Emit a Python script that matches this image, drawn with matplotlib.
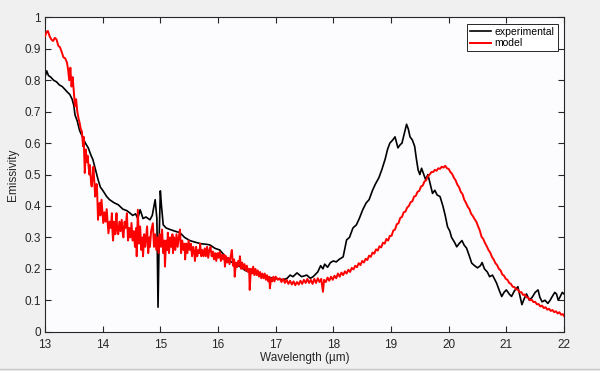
import matplotlib
matplotlib.use("Agg")
import matplotlib.pyplot as plt
from matplotlib.lines import Line2D

plt.rcParams['font.family'] = ['Liberation Sans', 'DejaVu Sans']

exp_wl = [13.00, 13.03, 13.06, 13.10, 13.15, 13.20, 13.25, 13.30, 13.35, 13.40, 13.43, 13.47, 13.50, 13.52,
          13.56, 13.60, 13.65, 13.70, 13.75, 13.80, 13.83, 13.87, 13.92, 13.96, 14.00, 14.07, 14.12, 14.20,
          14.27, 14.35, 14.42, 14.47, 14.52, 14.57, 14.61, 14.65, 14.70, 14.75, 14.82, 14.86, 14.91, 14.94,
          14.96, 14.98, 15.00, 15.02, 15.05, 15.10, 15.17, 15.25, 15.34, 15.42, 15.51, 15.60, 15.70, 15.80,
          15.86, 15.95, 16.03, 16.10, 16.20, 16.30, 16.40, 16.47, 16.55, 16.65, 16.75, 16.85, 16.95, 17.05,
          17.13, 17.20, 17.25, 17.30, 17.37, 17.45, 17.54, 17.60, 17.65, 17.73, 17.78, 17.82, 17.85, 17.90,
          17.95, 18.00, 18.05, 18.10, 18.17, 18.23, 18.28, 18.34, 18.40, 18.45, 18.51, 18.57, 18.62, 18.68,
          18.73, 18.79, 18.84, 18.90, 18.94, 18.98, 19.03, 19.07, 19.12, 19.16, 19.19, 19.23, 19.27, 19.30,
          19.33, 19.37, 19.41, 19.44, 19.47, 19.50, 19.53, 19.57, 19.60, 19.64, 19.68, 19.72, 19.76, 19.80,
          19.85, 19.90, 19.94, 19.98, 20.02, 20.05, 20.10, 20.14, 20.18, 20.23, 20.27, 20.31, 20.36, 20.40,
          20.45, 20.50, 20.55, 20.58, 20.62, 20.67, 20.71, 20.76, 20.83, 20.88, 20.92, 20.96, 21.00, 21.05,
          21.09, 21.14, 21.20, 21.24, 21.27, 21.31, 21.35, 21.40, 21.45, 21.50, 21.55, 21.58, 21.62, 21.67,
          21.72, 21.76, 21.79, 21.84, 21.87, 21.90, 21.93, 21.97, 22.00]
exp_em = [0.81, 0.83, 0.815, 0.81, 0.80, 0.795, 0.785, 0.78, 0.77, 0.76, 0.755, 0.74, 0.72, 0.69,
          0.67, 0.64, 0.62, 0.60, 0.585, 0.56, 0.548, 0.52, 0.484, 0.46, 0.45, 0.43, 0.42, 0.41,
          0.404, 0.39, 0.385, 0.378, 0.37, 0.375, 0.36, 0.388, 0.36, 0.365, 0.356, 0.37, 0.42, 0.36,
          0.078, 0.30, 0.448, 0.40, 0.34, 0.33, 0.325, 0.32, 0.315, 0.30, 0.29, 0.285, 0.28, 0.278,
          0.276, 0.265, 0.26, 0.245, 0.225, 0.215, 0.205, 0.195, 0.19, 0.185, 0.18, 0.175, 0.17, 0.168,
          0.165, 0.17, 0.18, 0.175, 0.187, 0.175, 0.18, 0.17, 0.175, 0.19, 0.21, 0.20, 0.215, 0.205,
          0.22, 0.225, 0.222, 0.23, 0.238, 0.292, 0.30, 0.33, 0.34, 0.36, 0.388, 0.41, 0.42, 0.45,
          0.47, 0.49, 0.515, 0.55, 0.58, 0.60, 0.61, 0.62, 0.585, 0.595, 0.60, 0.63, 0.66, 0.645,
          0.62, 0.61, 0.59, 0.55, 0.515, 0.50, 0.52, 0.50, 0.484, 0.50, 0.47, 0.44, 0.45, 0.435,
          0.43, 0.40, 0.37, 0.334, 0.32, 0.30, 0.285, 0.27, 0.28, 0.29, 0.275, 0.266, 0.24, 0.218,
          0.21, 0.203, 0.21, 0.22, 0.20, 0.19, 0.175, 0.18, 0.155, 0.13, 0.112, 0.125, 0.133, 0.12,
          0.112, 0.13, 0.143, 0.11, 0.086, 0.105, 0.12, 0.10, 0.11, 0.125, 0.133, 0.11, 0.095, 0.10,
          0.09, 0.10, 0.11, 0.125, 0.12, 0.10, 0.11, 0.125, 0.12]

mod_wl = [13.00, 13.03, 13.05, 13.08, 13.11, 13.14, 13.17, 13.20, 13.23, 13.26,
          13.29, 13.32, 13.35, 13.38, 13.40, 13.42, 13.44, 13.46, 13.48, 13.50,
          13.52, 13.54, 13.56, 13.58, 13.60, 13.62, 13.64, 13.66, 13.67, 13.68,
          13.69, 13.71, 13.72, 13.74, 13.75, 13.77, 13.78, 13.80, 13.81, 13.83,
          13.84, 13.86, 13.87, 13.89, 13.90, 13.92, 13.93, 13.95, 13.96, 13.98,
          14.00, 14.01, 14.03, 14.05, 14.07, 14.09, 14.10, 14.12, 14.14, 14.16,
          14.17, 14.18, 14.20, 14.22, 14.24, 14.25, 14.27, 14.29, 14.31, 14.33,
          14.35, 14.36, 14.38, 14.40, 14.42, 14.44, 14.46, 14.48, 14.50, 14.52,
          14.54, 14.56, 14.58, 14.59, 14.61, 14.63, 14.65, 14.67, 14.69, 14.70,
          14.72, 14.74, 14.77, 14.79, 14.81, 14.82, 14.84, 14.87, 14.89, 14.91,
          14.93, 14.95, 14.97, 14.99, 15.01, 15.03, 15.05, 15.07, 15.08, 15.10,
          15.12, 15.13, 15.15, 15.17, 15.19, 15.21, 15.22, 15.24, 15.26, 15.28,
          15.30, 15.32, 15.34, 15.36, 15.38, 15.40, 15.42, 15.43, 15.45, 15.47,
          15.49, 15.51, 15.53, 15.55, 15.57, 15.59, 15.60, 15.62, 15.64, 15.66,
          15.68, 15.69, 15.71, 15.73, 15.75, 15.77, 15.79, 15.81, 15.83, 15.85,
          15.87, 15.89, 15.91, 15.93, 15.95, 15.97, 15.99, 16.01, 16.03, 16.05,
          16.07, 16.09, 16.11, 16.12, 16.14, 16.16, 16.18, 16.20, 16.22, 16.24,
          16.26, 16.28, 16.29, 16.31, 16.33, 16.35, 16.37, 16.38, 16.40, 16.42,
          16.44, 16.46, 16.48, 16.50, 16.52, 16.54, 16.55, 16.57, 16.59, 16.61,
          16.63, 16.65, 16.67, 16.69, 16.71, 16.73, 16.75, 16.77, 16.79, 16.81,
          16.83, 16.85, 16.87, 16.89, 16.90, 16.92, 16.94, 16.96, 16.98, 17.00,
          17.04, 17.07, 17.10, 17.13, 17.16, 17.19, 17.22, 17.25, 17.28, 17.31,
          17.34, 17.37, 17.40, 17.43, 17.46, 17.49, 17.52, 17.55, 17.58, 17.61,
          17.64, 17.67, 17.70, 17.73, 17.76, 17.79, 17.82, 17.84, 17.87, 17.90,
          17.93, 17.96, 17.99, 18.02, 18.05, 18.08, 18.11, 18.14, 18.17, 18.20,
          18.23, 18.26, 18.29, 18.32, 18.35, 18.38, 18.41, 18.44, 18.47, 18.50,
          18.53, 18.56, 18.59, 18.62, 18.65, 18.68, 18.71, 18.74, 18.77, 18.80,
          18.83, 18.86, 18.89, 18.92, 18.95, 18.98, 19.01, 19.04, 19.07, 19.10,
          19.13, 19.16, 19.19, 19.22, 19.25, 19.28, 19.31, 19.34, 19.37, 19.40,
          19.43, 19.46, 19.49, 19.52, 19.55, 19.58, 19.61, 19.64, 19.67, 19.70,
          19.73, 19.76, 19.79, 19.82, 19.85, 19.88, 19.91, 19.94, 19.97, 20.00,
          20.03, 20.06, 20.09, 20.12, 20.15, 20.18, 20.21, 20.24, 20.27, 20.30,
          20.33, 20.36, 20.39, 20.42, 20.45, 20.48, 20.51, 20.54, 20.57, 20.60,
          20.63, 20.66, 20.69, 20.72, 20.75, 20.78, 20.81, 20.84, 20.87, 20.90,
          20.93, 20.96, 20.99, 21.02, 21.05, 21.08, 21.11, 21.14, 21.17, 21.20,
          21.23, 21.26, 21.29, 21.32, 21.35, 21.38, 21.41, 21.44, 21.47, 21.50,
          21.53, 21.56, 21.59, 21.62, 21.65, 21.68, 21.71, 21.74, 21.77, 21.80,
          21.83, 21.86, 21.89, 21.92, 21.95, 21.98, 22.00]
mod_em = [0.94, 0.955, 0.957, 0.94, 0.93, 0.925, 0.935, 0.93, 0.91, 0.905,
          0.89, 0.873, 0.87, 0.857, 0.835, 0.80, 0.84, 0.78, 0.81, 0.765,
          0.717, 0.74, 0.70, 0.68, 0.665, 0.645, 0.637, 0.59, 0.62, 0.56,
          0.505, 0.58, 0.54, 0.56, 0.537, 0.50, 0.53, 0.47, 0.462, 0.50,
          0.525, 0.46, 0.43, 0.47, 0.468, 0.356, 0.40, 0.41, 0.37, 0.42,
          0.37, 0.346, 0.38, 0.35, 0.39, 0.34, 0.313, 0.35, 0.33, 0.377,
          0.32, 0.29, 0.35, 0.31, 0.377, 0.33, 0.31, 0.35, 0.32, 0.356,
          0.31, 0.30, 0.35, 0.33, 0.377, 0.29, 0.33, 0.30, 0.346, 0.29,
          0.32, 0.27, 0.33, 0.24, 0.388, 0.28, 0.335, 0.26, 0.30, 0.24,
          0.31, 0.27, 0.335, 0.25, 0.30, 0.27, 0.32, 0.345, 0.27, 0.31,
          0.26, 0.30, 0.25, 0.31, 0.27, 0.325, 0.25, 0.29, 0.207, 0.29,
          0.26, 0.315, 0.25, 0.30, 0.27, 0.31, 0.25, 0.30, 0.26, 0.31,
          0.27, 0.30, 0.325, 0.25, 0.29, 0.26, 0.28, 0.23, 0.28, 0.25,
          0.29, 0.26, 0.28, 0.24, 0.27, 0.25, 0.225, 0.27, 0.24, 0.26,
          0.25, 0.28, 0.24, 0.26, 0.24, 0.265, 0.24, 0.27, 0.235, 0.26,
          0.27, 0.24, 0.255, 0.23, 0.25, 0.225, 0.25, 0.235, 0.254, 0.225,
          0.245, 0.23, 0.245, 0.207, 0.24, 0.22, 0.235, 0.215, 0.24, 0.26,
          0.21, 0.23, 0.175, 0.22, 0.205, 0.225, 0.21, 0.24, 0.20, 0.22,
          0.20, 0.215, 0.195, 0.21, 0.19, 0.20, 0.133, 0.20, 0.185, 0.207,
          0.18, 0.20, 0.18, 0.195, 0.175, 0.19, 0.17, 0.185, 0.17, 0.185,
          0.165, 0.18, 0.16, 0.175, 0.138, 0.17, 0.16, 0.175, 0.16, 0.175,
          0.165, 0.17, 0.158, 0.168, 0.155, 0.165, 0.152, 0.162, 0.15, 0.16,
          0.148, 0.158, 0.15, 0.162, 0.152, 0.165, 0.155, 0.168, 0.155, 0.165,
          0.152, 0.168, 0.155, 0.17, 0.158, 0.168, 0.127, 0.165, 0.158, 0.172,
          0.162, 0.175, 0.165, 0.178, 0.17, 0.185, 0.175, 0.188, 0.18, 0.192,
          0.185, 0.197, 0.19, 0.203, 0.198, 0.21, 0.205, 0.218, 0.212, 0.225,
          0.22, 0.232, 0.228, 0.242, 0.238, 0.252, 0.248, 0.262, 0.258, 0.272,
          0.268, 0.283, 0.28, 0.295, 0.29, 0.305, 0.305, 0.322, 0.325, 0.342,
          0.345, 0.362, 0.365, 0.38, 0.382, 0.395, 0.40, 0.412, 0.415, 0.43,
          0.432, 0.445, 0.448, 0.462, 0.465, 0.478, 0.482, 0.495, 0.50, 0.508,
          0.508, 0.515, 0.512, 0.52, 0.518, 0.525, 0.522, 0.528, 0.52, 0.518,
          0.508, 0.502, 0.49, 0.482, 0.468, 0.46, 0.445, 0.438, 0.42, 0.41,
          0.398, 0.39, 0.375, 0.368, 0.358, 0.35, 0.335, 0.322, 0.302, 0.295,
          0.282, 0.272, 0.26, 0.252, 0.238, 0.23, 0.218, 0.212, 0.20, 0.195,
          0.182, 0.178, 0.168, 0.165, 0.155, 0.152, 0.143, 0.142, 0.135, 0.134,
          0.125, 0.126, 0.117, 0.118, 0.11, 0.108, 0.10, 0.102, 0.094, 0.095,
          0.087, 0.088, 0.08, 0.083, 0.075, 0.078, 0.07, 0.073, 0.066, 0.069,
          0.062, 0.065, 0.058, 0.062, 0.054, 0.056, 0.05]

x_ticks = [13, 14, 15, 16, 17, 18, 19, 20, 21, 22]
y_ticks = [0, 0.1, 0.2, 0.3, 0.4, 0.5, 0.6, 0.7, 0.8, 0.9, 1]
y_tick_labels = ['0', '0.1', '0.2', '0.3', '0.4', '0.5', '0.6', '0.7', '0.8', '0.9', '1']

fig = plt.figure(figsize=(6, 3.71), dpi=100, facecolor='#f0f0f0')
ax = fig.add_axes([0.075, 0.106, 0.865, 0.847])
ax.set_facecolor('#fcfbfd')

ax.plot(exp_wl, exp_em, color='black', lw=1.2, label='experimental', zorder=2)
ax.plot(mod_wl, mod_em, color='#ff0000', lw=1.4, label='model', zorder=3)

ax.set_xlim(13, 22)
ax.set_ylim(0, 1)
ax.set_xticks(x_ticks)
ax.set_xticklabels([str(t) for t in x_ticks])
ax.set_yticks(y_ticks)
ax.set_yticklabels(y_tick_labels)
ax.tick_params(direction='in', top=True, right=True, length=4, width=0.8,
               labelsize=8.5, colors='#262626')
ax.tick_params(axis='x', pad=5)
ax.tick_params(axis='y', pad=3)
for s in ax.spines.values():
    s.set_color('#262626')
    s.set_linewidth(0.8)

ax.set_xlabel('Wavelength (µm)', fontsize=8.5, color='#262626', labelpad=1)
ax.set_ylabel('Emissivity', fontsize=8.5, color='#262626', labelpad=4)

leg = ax.legend(loc='upper right', fontsize=7.5, frameon=True, fancybox=False,
                borderpad=0.3, labelspacing=0.15, handlelength=2.0, handletextpad=0.4,
                borderaxespad=0.6)
leg.get_frame().set_edgecolor('#262626')
leg.get_frame().set_linewidth(0.7)
leg.get_frame().set_facecolor('white')
leg.get_frame().set_alpha(1)

fig.add_artist(Line2D([0, 1], [0.006, 0.006], transform=fig.transFigure,
                      color='#c8c8c8', lw=1))

fig.savefig('out.png', dpi=100, facecolor=fig.get_facecolor())
